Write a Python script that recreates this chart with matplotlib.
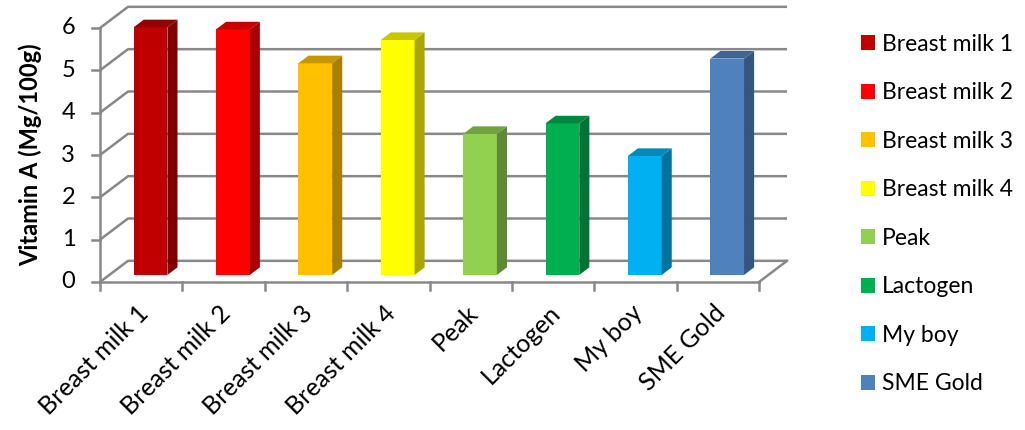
import matplotlib.pyplot as plt
from matplotlib.patches import Polygon, Patch
import numpy as np

plt.rcParams['font.family'] = ['Lato', 'DejaVu Sans']

categories = ['Breast milk 1', 'Breast milk 2', 'Breast milk 3', 'Breast milk 4',
              'Peak', 'Lactogen', 'My boy', 'SME Gold']
vitamin_a = [5.85, 5.8, 5.0, 5.55, 3.33, 3.58, 2.81, 5.11]
front_cols = ['#C00000', '#FF0000', '#FFC000', '#FFFF00',
              '#92D050', '#00B050', '#00B0F0', '#4F81BD']
yticks = [0, 1, 2, 3, 4, 5, 6]


def shade(c, f):
    r, g, b = plt.matplotlib.colors.to_rgb(c)
    return (r * f, g * f, b * f)


W, H = 1025, 430
fig = plt.figure(figsize=(W / 100, H / 100), dpi=100)
ax = fig.add_axes([100 / W, (H - 282) / H, 659 / W, 254 / H])
ax.set_xlim(-0.5, 7.5)
ax.set_ylim(0, 6)
ax.axis('off')

# oblique depth offset in data units
DX, DY = 0.34, 0.5
grid_c = '#888888'
lw = 1.8
x0, x1 = -0.5, 7.5

# back wall + side wall gridlines
for v in yticks:
    ax.plot([x0, x0 + DX, x1 + DX], [v, v + DY, v + DY], color=grid_c, lw=lw,
            clip_on=False, solid_capstyle='butt', zorder=1)
# floor right edge
ax.plot([x1, x1 + DX], [0, DY], color=grid_c, lw=lw, clip_on=False, zorder=1)

# bars
x = np.arange(len(categories))
f0, fd = 1 / 3, 0.36
bw = 0.41
sx, sy = f0 * DX, f0 * DY
ddx, ddy = fd * DX, fd * DY
ax.bar(x + sx, vitamin_a, width=bw, bottom=sy, color=front_cols,
       clip_on=False, zorder=3)
for xi, v, c in zip(x, vitamin_a, front_cols):
    xr = xi + sx + bw / 2
    xl = xi + sx - bw / 2
    side = Polygon([[xr, sy], [xr, sy + v], [xr + ddx, sy + v + ddy], [xr + ddx, sy + ddy]],
                   closed=True, fc=shade(c, 0.66), ec='none', clip_on=False, zorder=3)
    top = Polygon([[xl, sy + v], [xr, sy + v], [xr + ddx, sy + v + ddy], [xl + ddx, sy + v + ddy]],
                  closed=True, fc=shade(c, 0.78), ec='none', clip_on=False, zorder=3)
    ax.add_patch(side)
    ax.add_patch(top)

# front axes
ax.plot([x0, x0], [0, 6], color=grid_c, lw=lw, clip_on=False, zorder=4)
ax.plot([x0, x1], [0, 0], color=grid_c, lw=lw, clip_on=False, zorder=4)
for v in yticks:
    ax.plot([x0 - 0.1, x0], [v, v], color=grid_c, lw=lw, clip_on=False, zorder=4)
    ax.text(x0 - 0.3, v, str(v), ha='right', va='center', fontsize=17, color='black')
for xt in np.arange(x0, x1 + 0.01, 1):
    ax.plot([xt, xt], [0, -0.2], color=grid_c, lw=lw, clip_on=False, zorder=4)
for xi, lab in zip(x, categories):
    ax.text(xi - 0.06, -0.45, lab, ha='right', va='top', rotation=45,
            rotation_mode='anchor', fontsize=18, color='black')

fig.text(30 / W, 1 - 155 / H, 'Vitamin A (Mg/100g)', rotation=90, ha='center',
         va='center', fontsize=17, fontweight='bold')

handles = [Patch(fc=c, ec='none') for c in front_cols]
fig.legend(handles, categories, loc='center left', bbox_to_anchor=(852 / W, 1 - 214 / H),
           frameon=False, fontsize=16.5, handlelength=0.62, handleheight=0.62,
           handletextpad=0.3, labelspacing=1.2, borderaxespad=0)

fig.savefig('out.png', dpi=100)
